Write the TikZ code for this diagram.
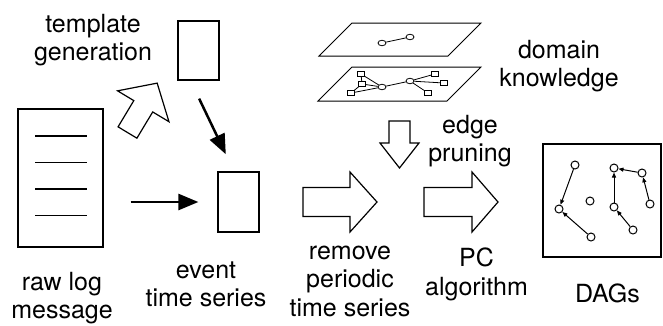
\documentclass[tikz,border=0pt]{standalone}
\usepackage{fontspec}
\setmainfont{TeX Gyre Heros}
\usepackage{tikz}
\usetikzlibrary{arrows.meta,arrows}
\usetikzlibrary{positioning,shapes.geometric}

\tikzset{
    pics/hollow arrow/.style args={#1/#2/#3/#4}{code={
        \draw[line width=1.2pt] (0,#4) -- (#1-#2,#4) -- (#1-#2,#3) -- (#1,0)
            -- (#1-#2,-#3) -- (#1-#2,-#4) -- (0,-#4) -- cycle;
    }}
}

\begin{document}
\begin{tikzpicture}[x=1pt,y=-1pt]
                \useasboundingbox (0,0) rectangle (663,325);

                % documents
                \begin{scope}[every node/.style={draw, line width=1.2pt, inner sep=0}]
                    \node[minimum width=85pt, minimum height=138pt] (raw) at (60.5,178) {};
                    \node[minimum width=41pt, minimum height=59pt] (tmpl) at (198.5,50.5) {};
                    \node[minimum width=41pt, minimum height=60pt] (event) at (238.5,202) {};
                    \node[minimum width=118pt, minimum height=113pt] (dagbox) at (602,200.5) {};
                \end{scope}
                \foreach \y in {136,162.5,189,215.5}
                    \draw[line width=1.2pt] (35,\y) -- (87,\y);

                \begin{scope}[line width=2.5pt, >={Triangle[length=20pt,width=16pt]}]
                    \draw [->, shorten <=27pt, shorten >=19pt] (raw.east |- event.west) -- (event.west);
                    \draw [->, shorten <=20pt, shorten >=19pt] ([xshift=-8pt]tmpl.south) -- ([xshift=-4.5pt]event.north);
                \end{scope}

                % block arrows
                \pic[rotate=59] at (127.5,132.5) {hollow arrow=57.6/27/30/11};
                \pic[rotate=-90] at (399.5,121) {hollow arrow=47/25/19.5/10.5};
                \pic at (303,202) {hollow arrow=74/27/30/14.5};
                \pic at (424,202) {hollow arrow=74/26/30/14.5};

                % domain knowledge planes
                \draw[line width=1pt] (352,23) -- (481,23) -- (448,56) -- (319,56) -- cycle;
                \draw[line width=1pt] (352,67) -- (481,67) -- (447,101) -- (318,101) -- cycle;
                \begin{scope}[every node/.style={draw, line width=0.8pt, inner sep=0}]
                    \node[ellipse, minimum width=8pt, minimum height=5.5pt] (k1) at (382,43) {};
                    \node[ellipse, minimum width=8pt, minimum height=5.5pt] (k2) at (410,37) {};
                    \node[minimum width=7pt, minimum height=4.5pt] (r1) at (361,74) {};
                    \node[minimum width=7pt, minimum height=4.5pt] (r2) at (362,84) {};
                    \node[minimum width=7pt, minimum height=4.5pt] (r3) at (351,93) {};
                    \node[ellipse, minimum width=8pt, minimum height=5.5pt] (e1) at (382,87) {};
                    \node[ellipse, minimum width=8pt, minimum height=5.5pt] (e2) at (410,81) {};
                    \node[minimum width=7pt, minimum height=4.5pt] (r4) at (435,74) {};
                    \node[minimum width=7pt, minimum height=4.5pt] (r5) at (444,83) {};
                    \node[minimum width=7pt, minimum height=4.5pt] (r6) at (428,93) {};
                \end{scope}
                \begin{scope}[line width=0.8pt]
                    \draw (k1) -- (k2);
                    \draw (r1) -- (e1);
                    \draw (r1) -- (r2);
                    \draw (r2) -- (e1);
                    \draw (r3) -- (r2);
                    \draw (r3) -- (e1);
                    \draw (e1) -- (e2);
                    \draw (e2) -- (r4);
                    \draw (e2) -- (r5);
                    \draw (e2) -- (r6);
                \end{scope}

                % DAGs
                \begin{scope}[every node/.style={circle, draw, line width=1pt, minimum size=8pt, inner sep=0}]
                    \node (a) at (575,165) {};
                    \node (b) at (559,209) {};
                    \node (c) at (591,237) {};
                    \node (d) at (590,201) {};
                    \node (e) at (614,168) {};
                    \node (f) at (642,173) {};
                    \node (g) at (650,204) {};
                    \node (h) at (614,207) {};
                    \node (i) at (633,230) {};
                \end{scope}
                \begin{scope}[line width=1pt, >={Triangle[length=5pt,width=4pt]}]
                    \path [->] (a) edge (b);
                    \path [->] (c) edge (b);
                    \path [->] (h) edge (e);
                    \path [->] (f) edge (e);
                    \path [->] (g) edge (f);
                    \path [->] (i) edge (h);
                \end{scope}

                % labels
                \begin{scope}[every node/.style={align=center, inner sep=0, font=\fontsize{25}{28.5}\selectfont}]
                    \node (tmpllabel) at (93,40) {template\\generation};
                    \node (domlabel) at (559,66) {domain\\knowledge};
                    \node (prunelabel) at (470,141) {edge\\pruning};
                    \node (rawlabel) at (62,298) {raw log\\message};
                    \node (eventlabel) at (206,284.5) {event\\time series};
                    \node (periodlabel) at (350,281) {remove\\periodic\\time series};
                    \node (pclabel) at (476.5,274.5) {PC\\algorithm};
                    \node (daglabel) at (607.5,293.5) {DAGs};
                \end{scope}
            \end{tikzpicture}
\end{document}
